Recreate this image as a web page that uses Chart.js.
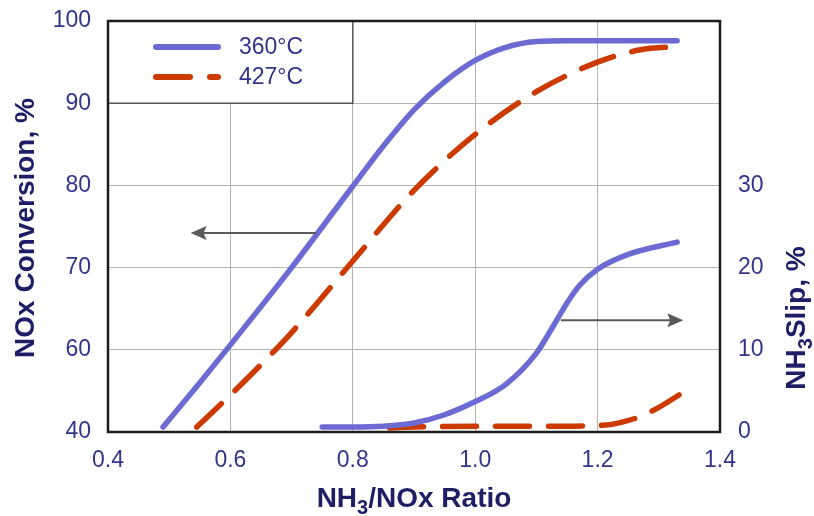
<!DOCTYPE html>
<html>
<head>
<meta charset="utf-8">
<script src="https://cdn.jsdelivr.net/npm/chart.js@4/dist/chart.umd.min.js"></script>
<style>
  body { margin: 0; background: #fff; }
  #wrap { width: 814px; height: 516px; }
</style>
</head>
<body>
<div id="wrap"><canvas id="slipChart" width="814" height="516"></canvas></div>
<script>
// values
const ratio360 = [0.49, 0.55, 0.6, 0.7, 0.8, 0.85, 0.9, 0.95, 1.0, 1.05, 1.1, 1.15, 1.2, 1.33];
const conv360 = [50.6, 56.0, 60.6, 70.0, 79.9, 84.8, 89.2, 92.6, 95.2, 96.8, 97.5, 97.6, 97.6, 97.6];
const ratio427 = [0.545, 0.6, 0.65, 0.7, 0.8, 0.9, 1.0, 1.1, 1.2, 1.27, 1.33];
const conv427 = [50.6, 54.5, 58.2, 62.1, 70.8, 79.4, 86.2, 91.4, 95.0, 96.5, 96.9];
const slipRatio360 = [0.75, 0.8, 0.85, 0.9, 0.95, 1.0, 1.05, 1.1, 1.13, 1.15, 1.17, 1.2, 1.25, 1.33];
const slip360 = [0.6, 0.6, 0.7, 1.1, 2.1, 3.7, 5.8, 9.6, 13.2, 15.7, 17.8, 19.8, 21.6, 23.1];
const slipRatio427 = [0.86, 0.9, 1.0, 1.1, 1.2, 1.22, 1.24, 1.27, 1.3, 1.333];
const slip427 = [0.5, 0.6, 0.7, 0.7, 0.8, 0.9, 1.2, 1.9, 3.0, 4.5];

const xTicks = [0.4, 0.6, 0.8, 1.0, 1.2, 1.4];
const convTicks = [50, 60, 70, 80, 90, 100];
const convTickLabels = ["40", "60", "70", "80", "90", "100"];
const slipTicks = [0, 10, 20, 30];
const seriesNames = ["360°C", "427°C"];

const blue = "#6b6bd3";
const red = "#cc3a00";
const tickColor = "#34348c";
const titleColor = "#1e1e66";
const fontFam = "'Liberation Sans', Arial, sans-serif";

function pts(xs, ys) {
  return xs.map((x, i) => ({ x: x, y: ys[i] }));
}

// fixed box sizes so the plot area lands where the original has it
function fitBox(size, vertical) {
  return function (s) {
    if (vertical) s.width = size;
    else s.height = size;
    s.paddingTop = 0;
    s.paddingBottom = 0;
    s.paddingLeft = 0;
    s.paddingRight = 0;
  };
}

const framePlugin = {
  id: "frame",
  beforeDatasetsDraw(chart) {
    // legend box, it hides the grid under it
    const ctx = chart.ctx;
    const a = chart.chartArea;
    const bx = chart.scales.x.getPixelForValue(0.8);
    const by = chart.scales.y.getPixelForValue(90);
    ctx.save();
    ctx.fillStyle = "#fff";
    ctx.fillRect(a.left, a.top, bx - a.left, by - a.top);
    ctx.strokeStyle = "#555";
    ctx.lineWidth = 1.5;
    ctx.beginPath();
    ctx.moveTo(bx, a.top);
    ctx.lineTo(bx, by);
    ctx.lineTo(a.left, by);
    ctx.stroke();

    const rows = [
      { y: a.top + 26, color: blue, dash: [] },
      { y: a.top + 56, color: red, dash: [34, 20] },
    ];
    ctx.lineCap = "round";
    ctx.lineWidth = 6;
    rows.forEach((r, i) => {
      ctx.strokeStyle = r.color;
      ctx.setLineDash(r.dash);
      ctx.beginPath();
      ctx.moveTo(156, r.y);
      ctx.lineTo(218, r.y);
      ctx.stroke();
      ctx.setLineDash([]);
      ctx.fillStyle = tickColor;
      ctx.font = "23px " + fontFam;
      ctx.textAlign = "left";
      ctx.textBaseline = "middle";
      ctx.fillText(seriesNames[i], 239, r.y + 1);
    });
    ctx.restore();
  },
  afterDatasetsDraw(chart) {
    const ctx = chart.ctx;
    const a = chart.chartArea;
    const xs = chart.scales.x;
    const ys = chart.scales.y;
    ctx.save();
    // arrows
    function arrow(x1, x2, y) {
      const px1 = xs.getPixelForValue(x1);
      const px2 = xs.getPixelForValue(x2);
      const py = ys.getPixelForValue(y);
      const dir = px2 > px1 ? 1 : -1;
      ctx.strokeStyle = "#5a5a5a";
      ctx.fillStyle = "#5a5a5a";
      ctx.lineWidth = 2;
      ctx.beginPath();
      ctx.moveTo(px1, py);
      ctx.lineTo(px2 - dir * 10, py);
      ctx.stroke();
      ctx.beginPath();
      ctx.moveTo(px2, py);
      ctx.lineTo(px2 - dir * 16, py - 7);
      ctx.lineTo(px2 - dir * 13, py);
      ctx.lineTo(px2 - dir * 16, py + 7);
      ctx.closePath();
      ctx.fill();
    }
    arrow(0.74, 0.535, 74.2);
    arrow(1.14, 1.34, 63.6);

    // plot frame
    ctx.strokeStyle = "#1c1c1c";
    ctx.lineWidth = 2.5;
    ctx.strokeRect(a.left, a.top, a.right - a.left, a.bottom - a.top);
    ctx.restore();
  },
  afterDraw(chart) {
    const ctx = chart.ctx;
    ctx.save();
    ctx.fillStyle = titleColor;
    ctx.textBaseline = "alphabetic";
    const big = "bold 28px " + fontFam;
    const sub = "bold 20px " + fontFam;

    // draws "NH", subscript 3, then the rest, centred on (0,0)
    function subText(rest) {
      ctx.font = big;
      const w1 = ctx.measureText("NH").width;
      const w3 = ctx.measureText(rest).width;
      ctx.font = sub;
      const w2 = ctx.measureText("3").width;
      let x = -(w1 + w2 + w3) / 2;
      ctx.textAlign = "left";
      ctx.font = big;
      ctx.fillText("NH", x, 10);
      x += w1;
      ctx.font = sub;
      ctx.fillText("3", x, 17);
      x += w2;
      ctx.font = big;
      ctx.fillText(rest, x, 10);
    }

    // x title
    ctx.save();
    ctx.translate(414, 497);
    subText("/NOx Ratio");
    ctx.restore();

    // left title
    ctx.save();
    ctx.translate(24, 228);
    ctx.rotate(-Math.PI / 2);
    ctx.font = big;
    ctx.textAlign = "center";
    ctx.fillText("NOx Conversion, %", 0, 10);
    ctx.restore();

    // right title
    ctx.save();
    ctx.translate(795, 318);
    ctx.rotate(-Math.PI / 2);
    subText("Slip, %");
    ctx.restore();
    ctx.restore();
  },
};

const commonLine = {
  pointRadius: 0,
  borderWidth: 5.5,
  fill: false,
  cubicInterpolationMode: "monotone",
  borderCapStyle: "round",
};

new Chart(document.getElementById("slipChart"), {
  type: "line",
  data: {
    datasets: [
      Object.assign({ label: "360°C", data: pts(ratio360, conv360), borderColor: blue, yAxisID: "y" }, commonLine),
      Object.assign({ label: "427°C", data: pts(ratio427, conv427), borderColor: red, borderDash: [34, 19], yAxisID: "y" }, commonLine),
      Object.assign({ label: "360°C slip", data: pts(slipRatio360, slip360), borderColor: blue, yAxisID: "y2" }, commonLine),
      Object.assign({ label: "427°C slip", data: pts(slipRatio427, slip427), borderColor: red, borderDash: [34, 19], yAxisID: "y2" }, commonLine),
    ],
  },
  options: {
    responsive: false,
    animation: false,
    layout: { padding: { top: 21, left: 0, right: 0, bottom: 0 } },
    plugins: { legend: { display: false }, tooltip: { enabled: false } },
    scales: {
      x: {
        type: "linear",
        min: 0.4,
        max: 1.4,
        afterBuildTicks(s) {
          s.ticks = xTicks.map((v) => ({ value: v }));
        },
        afterFit: fitBox(84, false),
        grid: { color: "#b4b4b4", lineWidth: 1, drawTicks: false },
        border: { display: false },
        ticks: {
          padding: 15,
          color: tickColor,
          font: { family: fontFam, size: 23 },
          callback: (v) => Number(v).toFixed(1),
        },
      },
      y: {
        position: "left",
        min: 50,
        max: 100,
        afterBuildTicks(s) {
          s.ticks = convTicks.map((v) => ({ value: v }));
        },
        afterFit: fitBox(108, true),
        grid: { color: "#b4b4b4", lineWidth: 1, drawTicks: false },
        border: { display: false },
        ticks: {
          padding: 17,
          color: tickColor,
          font: { family: fontFam, size: 23 },
          callback: (v) => convTickLabels[convTicks.indexOf(v)],
        },
      },
      y2: {
        position: "right",
        min: 0,
        max: 50,
        afterBuildTicks(s) {
          s.ticks = slipTicks.map((v) => ({ value: v }));
        },
        afterFit: fitBox(94, true),
        grid: { display: false, drawTicks: false },
        border: { display: false },
        ticks: {
          padding: 18,
          color: tickColor,
          font: { family: fontFam, size: 23 },
          callback: (v) => String(v),
        },
      },
    },
  },
  plugins: [framePlugin],
});
</script>
</body>
</html>
